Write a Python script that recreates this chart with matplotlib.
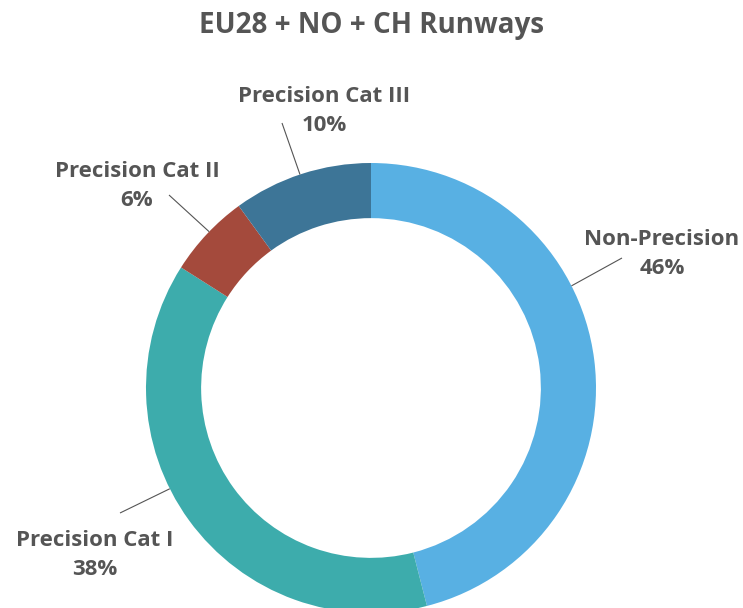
import numpy as np
import matplotlib.pyplot as plt

categories = ['Non-Precision', 'Precision Cat I', 'Precision Cat II', 'Precision Cat III']
shares = [46, 38, 6, 10]
colors = ['#58B0E3', '#3DACAC', '#A44A3C', '#3D7597']
title = 'EU28 + NO + CH Runways'

# layout (pixels of the 743x608 canvas)
W, H = 743, 608
cx, cy, R = 371, 388, 225
# leader line: angle on the outer edge, end point, text centre
leaders = {
    'Non-Precision': (27, (622, 258), (662, 254)),
    'Precision Cat I': (206.6, (120, 513), (95, 555)),
    'Precision Cat II': (136, (169, 195), (137, 186)),
    'Precision Cat III': (108.4, (282, 123), (324, 111)),
}

plt.rcParams['font.family'] = ['Open Sans', 'DejaVu Sans']
txt_color = '#555555'

fig = plt.figure(figsize=(W / 100, H / 100), dpi=100)
ax = fig.add_axes([0, 0, 1, 1])
ax.pie(shares, colors=colors, startangle=90, counterclock=False,
       wedgeprops=dict(width=0.245, edgecolor='none'))
ax.set_xlim(-cx / R, (W - cx) / R)
ax.set_ylim(-(H - cy) / R, cy / R)
ax.axis('off')

def to_data(p):
    return ((p[0] - cx) / R, (cy - p[1]) / R)

for cat, val in zip(categories, shares):
    ang, end, tc = leaders[cat]
    a = np.deg2rad(ang)
    x0, y0 = np.cos(a), np.sin(a)
    x1, y1 = to_data(end)
    ax.plot([x0, x1], [y0, y1], color='#555555', lw=0.8, solid_capstyle='butt')
    tx, ty = to_data(tc)
    ax.text(tx, ty, f'{cat}\n{val}%', ha='center', va='center', fontsize=16,
            fontweight='bold', color=txt_color, linespacing=1.55)

fig.text(0.5, 1 - 26 / H, title, ha='center', va='center', fontsize=20,
         fontweight='bold', color=txt_color)

fig.savefig('out.png', dpi=100)
